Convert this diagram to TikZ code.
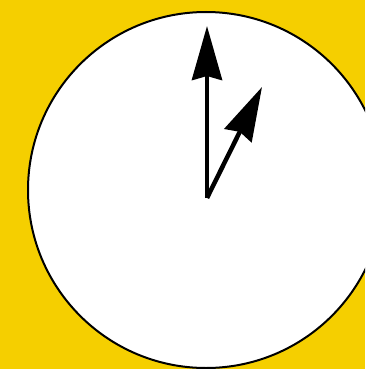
\documentclass[tikz,border=0pt]{standalone}
\usetikzlibrary{arrows.meta}
\definecolor{bgyellow}{RGB}{245,207,0}
\begin{document}
\begin{tikzpicture}[x=1pt,y=-1pt,
  hand/.style={line width=4.5pt,-{Stealth[length=54pt,width=30pt,inset=4pt]}}]
\fill[bgyellow] (0,0) rectangle (365,369);
\useasboundingbox (0,0) rectangle (365,369);
\begin{scope}
\clip (0,0) rectangle (365,369);
\node[circle,draw=black,line width=2pt,fill=white,minimum size=356pt,inner sep=0pt] (face) at (206,190) {};
\end{scope}
\coordinate (pivot) at (207,198);
\coordinate (minute) at (207,26);
\coordinate (hour) at (262,87);
\draw[hand] (pivot) -- (minute);
\draw[hand] (pivot) -- (hour);
\end{tikzpicture}
\end{document}
